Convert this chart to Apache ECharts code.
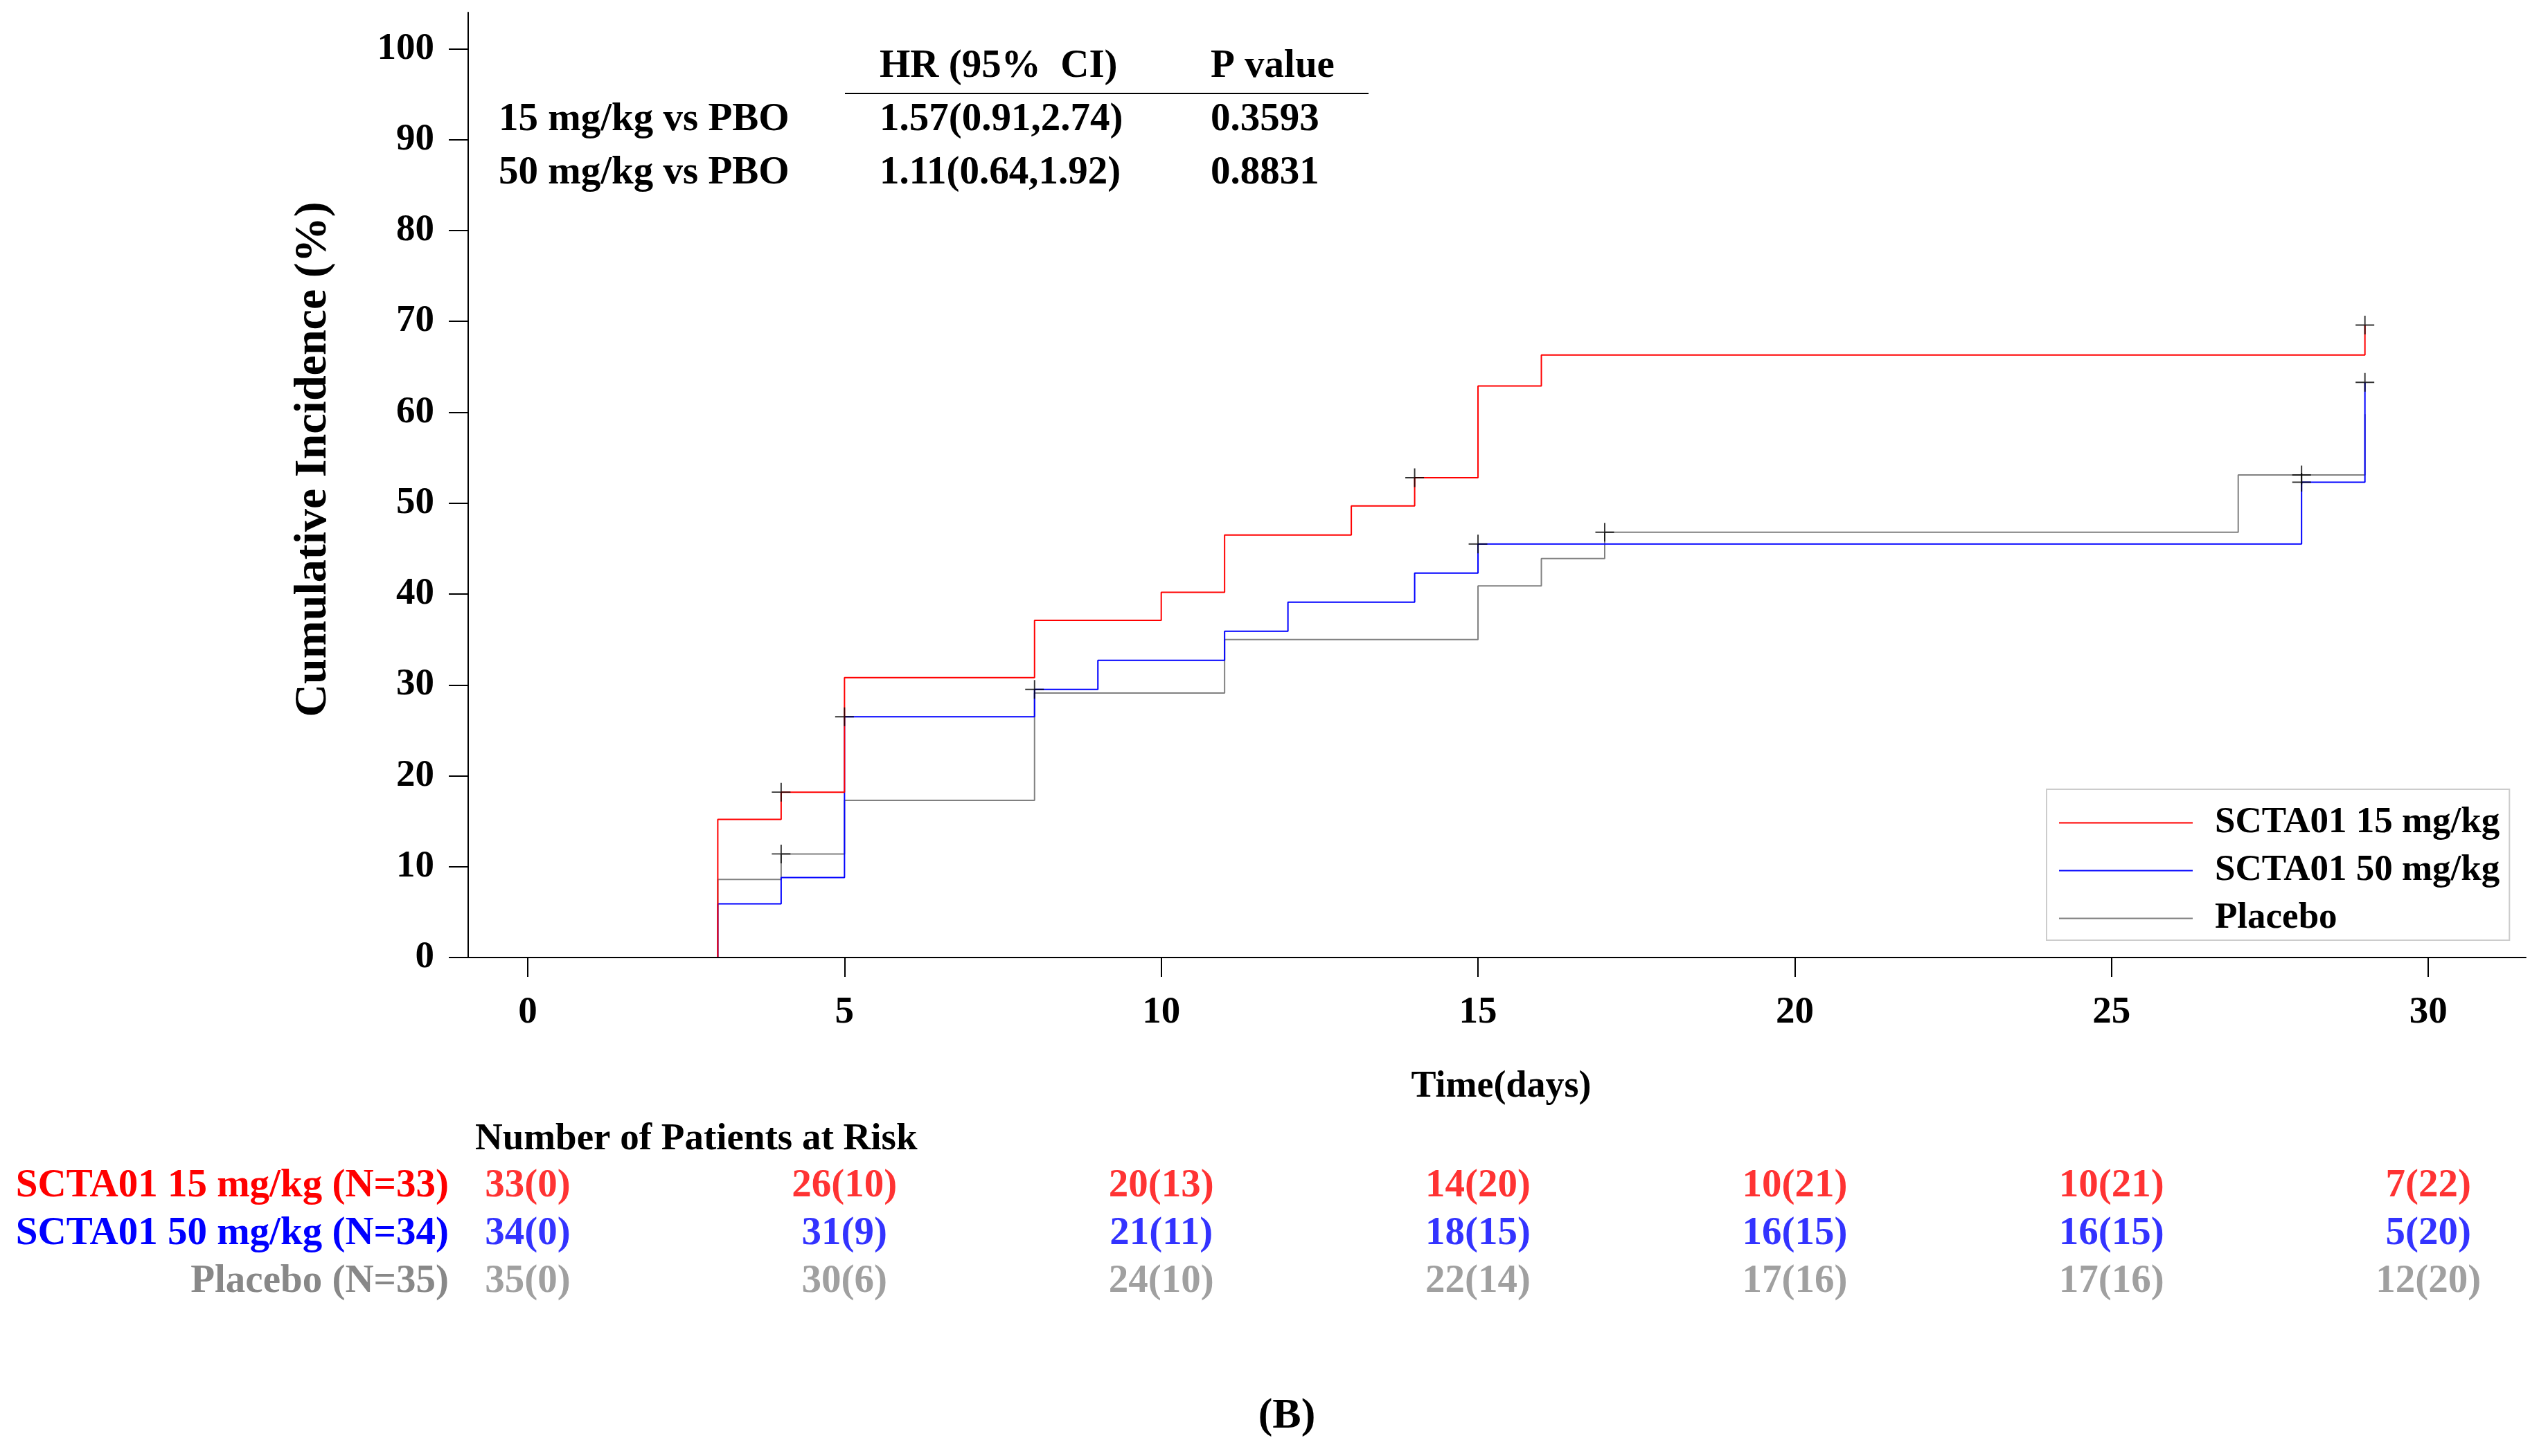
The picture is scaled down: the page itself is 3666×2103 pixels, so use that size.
<!DOCTYPE html>
<html><head><meta charset="utf-8">
<script src="https://cdn.jsdelivr.net/npm/echarts@6/dist/echarts.min.js"></script>
<style>html,body{margin:0;padding:0;background:#fff}#c{width:3666px;height:2103px}</style>
</head><body><div id="c"></div>
<script>
// ---------- data ----------
const seriesNames = ['SCTA01 15 mg/kg', 'SCTA01 50 mg/kg', 'Placebo'];
const seriesColors = ['#ff0000', '#0000ff', '#808080'];
const xTicks = [0, 5, 10, 15, 20, 25, 30];
const yTicks = [0, 10, 20, 30, 40, 50, 60, 70, 80, 90, 100];

const days15 = [0, 3, 4, 5, 8, 10, 11, 13, 14, 15, 16, 29];
const inc15  = [0, 15.2, 18.2, 30.8, 37.1, 40.2, 46.5, 49.7, 52.8, 62.9, 66.3, 69.6];
const days50 = [0, 3, 4, 5, 8, 9, 11, 12, 14, 15, 28, 29];
const inc50  = [0, 5.9, 8.8, 26.5, 29.5, 32.7, 35.9, 39.1, 42.3, 45.5, 52.3, 63.3];
const daysPbo = [0, 3, 4, 5, 8, 11, 15, 16, 17, 27, 29];
const incPbo  = [0, 8.6, 11.4, 17.3, 29.1, 35.0, 40.9, 43.9, 46.8, 53.1, 59.8];

const cens15Days = [4, 14, 29];        const cens15Inc = [18.2, 52.8, 69.6];
const cens50Days = [5, 8, 15, 28, 29]; const cens50Inc = [26.5, 29.5, 45.5, 52.3, 63.3];
const censPboDays = [4, 17, 28];       const censPboInc = [11.4, 46.8, 53.1];

const riskTitle = 'Number of Patients at Risk';
const riskLabels = ['SCTA01 15 mg/kg (N=33)', 'SCTA01 50 mg/kg (N=34)', 'Placebo (N=35)'];
const riskDays = [0, 5, 10, 15, 20, 25, 30];
const risk15  = ['33(0)', '26(10)', '20(13)', '14(20)', '10(21)', '10(21)', '7(22)'];
const risk50  = ['34(0)', '31(9)', '21(11)', '18(15)', '16(15)', '16(15)', '5(20)'];
const riskPbo = ['35(0)', '30(6)', '24(10)', '22(14)', '17(16)', '17(16)', '12(20)'];

const hrHeader = ['HR (95%  CI)', 'P value'];
const hrRows = ['15 mg/kg vs PBO', '50 mg/kg vs PBO'];
const hrValues = ['1.57(0.91,2.74)', '1.11(0.64,1.92)'];
const pValues = ['0.3593', '0.8831'];
const panelLabel = '(B)';

// ---------- build ----------
const FONT = '"Liberation Serif", "Times New Roman", serif';
const XMIN = -0.94, XMAX = 31.54;
const zip = (a, b) => a.map((v, i) => [v, b[i]]);
const plusPath = 'path://M13,0h2v28h-2zM0,13h28v2h-28z';
const textColors = ['#ff0000', '#0000ff', '#888888'];

const stepSeries = [[days15, inc15], [days50, inc50], [daysPbo, incPbo]].map((d, i) => ({
  name: seriesNames[i], type: 'line', step: 'end', symbol: 'none', showSymbol: false,
  xAxisIndex: 0, yAxisIndex: 0,
  data: zip(d[0], d[1]),
  lineStyle: { color: seriesColors[i], width: 2 },
  itemStyle: { color: seriesColors[i] },
  z: 3 - i
}));

const censSeries = [[cens15Days, cens15Inc], [cens50Days, cens50Inc], [censPboDays, censPboInc]].map((d, i) => ({
  name: seriesNames[i] + ' censored', type: 'scatter',
  xAxisIndex: 0, yAxisIndex: 0,
  symbol: plusPath, symbolSize: 27,
  data: zip(d[0], d[1]),
  itemStyle: { color: '#000' }, z: 6
}));

const riskSeries = [risk15, risk50, riskPbo].map((row, i) => ({
  name: 'risk ' + i, type: 'scatter', xAxisIndex: 1, yAxisIndex: 1,
  symbolSize: 1, itemStyle: { color: 'transparent' },
  data: riskDays.map((d, k) => [d, i, row[k]]),
  label: {
    show: true, position: 'inside', formatter: p => p.value[2],
    fontFamily: FONT, fontWeight: 'bold', fontSize: 57, color: textColors[i]
  }
}));

const txt = (text, x, y, opts = {}) => ({
  type: 'text', x, y,
  style: Object.assign({
    text, fontFamily: FONT, fontWeight: 'bold', fontSize: 57, fill: '#000',
    align: 'left', verticalAlign: 'middle'
  }, opts)
});

const chart = echarts.init(document.getElementById('c'));
chart.setOption({
  animation: false,
  backgroundColor: '#fff',
  grid: [
    { left: 676, top: 18, width: 2971, height: 1365 },
    { left: 676, top: 1679, width: 2971, height: 207 }
  ],
  xAxis: [{
    type: 'value', gridIndex: 0, min: XMIN, max: XMAX, z: 5,
    name: 'Time(days)', nameLocation: 'middle', nameGap: 160,
    nameTextStyle: { fontFamily: FONT, fontWeight: 'bold', fontSize: 54, color: '#000', padding: [0, 0, 0, 12] },
    axisLine: { onZero: false, lineStyle: { color: '#000', width: 2 } },
    axisTick: { customValues: xTicks, length: 28, lineStyle: { color: '#000', width: 2 } },
    axisLabel: { customValues: xTicks, margin: 52, fontFamily: FONT, fontWeight: 'bold', fontSize: 55, color: '#000' },
    splitLine: { show: false }
  }, {
    type: 'value', gridIndex: 1, min: XMIN, max: XMAX, show: false
  }],
  yAxis: [{
    type: 'value', gridIndex: 0, min: 0, max: 104, z: 5,
    name: 'Cumulative Incidence (%)', nameLocation: 'middle', nameGap: 190,
    nameTextStyle: { fontFamily: FONT, fontWeight: 'bold', fontSize: 66, color: '#000', padding: [0, 0, 0, 74] },
    axisLine: { onZero: false, lineStyle: { color: '#000', width: 2 } },
    axisTick: { customValues: yTicks, length: 28, lineStyle: { color: '#000', width: 2 } },
    axisLabel: { customValues: yTicks, margin: 49, fontFamily: FONT, fontWeight: 'bold', fontSize: 55, color: '#000' },
    splitLine: { show: false }
  }, {
    type: 'category', gridIndex: 1, inverse: true, data: riskLabels,
    axisLine: { show: false }, axisTick: { show: false }, splitLine: { show: false },
    axisLabel: {
      interval: 0, hideOverlap: false,
      margin: 28, fontFamily: FONT, fontWeight: 'bold', fontSize: 57,
      formatter: (v, i) => '{s' + i + '|' + v + '}',
      rich: {
        s0: { color: textColors[0], fontFamily: FONT, fontWeight: 'bold', fontSize: 57 },
        s1: { color: textColors[1], fontFamily: FONT, fontWeight: 'bold', fontSize: 57 },
        s2: { color: textColors[2], fontFamily: FONT, fontWeight: 'bold', fontSize: 57 }
      }
    }
  }],
  legend: {
    data: seriesNames, orient: 'vertical', left: 2955, top: 1140,
    icon: 'path://M0,0h100v1h-100z',
    padding: [22, 14, 5, 18], itemWidth: 193, itemHeight: 2, itemGap: 16,
    borderColor: '#cccccc', borderWidth: 2, backgroundColor: '#fff',
    textStyle: { fontFamily: FONT, fontWeight: 'bold', fontSize: 53, lineHeight: 50, color: '#000', padding: [0, 0, 0, 27] }
  },
  graphic: [
    txt(hrHeader[0], 1270, 96),
    txt(hrHeader[1], 1748, 96),
    { type: 'line', shape: { x1: 1220, y1: 135, x2: 1976, y2: 135 }, style: { stroke: '#000', lineWidth: 2 } },
    txt(hrRows[0], 720, 173), txt(hrValues[0], 1270, 173), txt(pValues[0], 1748, 173),
    txt(hrRows[1], 720, 250), txt(hrValues[1], 1270, 250), txt(pValues[1], 1748, 250),
    txt(riskTitle, 686, 1646, { fontSize: 55 }),
    txt(panelLabel, 1858, 2046, { align: 'center', fontSize: 62 })
  ],
  series: [...stepSeries, ...censSeries, ...riskSeries]
});
</script></body></html>
